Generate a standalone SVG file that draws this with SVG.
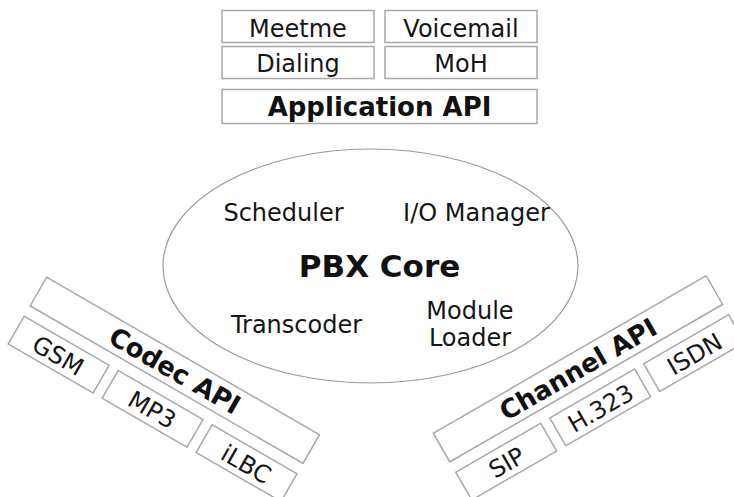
<svg xmlns="http://www.w3.org/2000/svg" width="734" height="497" viewBox="0 0 734 497">
<style>
.box{fill:#fff;stroke:#a8a8a8;stroke-width:1.5}
.core{fill:#fff;stroke:#9a9a9a;stroke-width:1.2}
.t{font-family:"DejaVu Sans","Liberation Sans",sans-serif;font-size:24px;fill:#151515;text-anchor:middle}
.b{font-family:"DejaVu Sans","Liberation Sans",sans-serif;font-size:26px;font-weight:bold;fill:#111;text-anchor:middle}
.pbx{font-family:"DejaVu Sans","Liberation Sans",sans-serif;font-size:31px;font-weight:bold;fill:#111;text-anchor:middle}
</style>
<rect width="734" height="497" fill="#fff"/>
<g id="application">
  <g id="meetme"><rect class="box" x="222" y="10.5" width="152" height="32"/><text class="t" x="298" y="36.5">Meetme</text></g>
  <g id="voicemail"><rect class="box" x="385" y="10.5" width="152" height="32"/><text class="t" x="461" y="36.5">Voicemail</text></g>
  <g id="dialing"><rect class="box" x="222" y="46.5" width="152" height="32"/><text class="t" x="298" y="72">Dialing</text></g>
  <g id="moh"><rect class="box" x="385" y="46.5" width="152" height="32"/><text class="t" x="461" y="72">MoH</text></g>
  <g id="application-api"><rect class="box" x="222" y="89.5" width="315" height="34"/><text class="b" x="379.5" y="116">Application API</text></g>
</g>
<g id="pbx-core">
  <ellipse class="core" cx="370.5" cy="266" rx="207.5" ry="117"/>
  <text class="t" x="283.5" y="220.5">Scheduler</text>
  <text class="t" x="476.5" y="220.5">I/O Manager</text>
  <text class="pbx" x="379.5" y="277">PBX Core</text>
  <text class="t" x="296.5" y="332.5">Transcoder</text>
  <text class="t" x="470" y="318.5">Module</text>
  <text class="t" x="470" y="346">Loader</text>
</g>
<g id="codec" transform="translate(46.7,277.3) rotate(30)">
  <g id="codec-api"><rect class="box" x="0" y="0" width="315" height="33"/><text class="b" x="157.5" y="26">Codec API</text></g>
  <g id="gsm"><rect class="box" x="0" y="45" width="98" height="32"/><text class="t" x="49" y="70.5">GSM</text></g>
  <g id="mp3"><rect class="box" x="108.5" y="45" width="98" height="32"/><text class="t" x="157.5" y="70.5">MP3</text></g>
  <g id="ilbc"><rect class="box" x="217" y="45" width="98" height="32"/><text class="t" x="266" y="70.5">iLBC</text></g>
</g>
<g id="channel" transform="translate(433.3,433.3) rotate(-30)">
  <g id="channel-api"><rect class="box" x="0" y="0" width="315" height="33"/><text class="b" x="157.5" y="26">Channel API</text></g>
  <g id="sip"><rect class="box" x="0" y="45" width="98" height="32"/><text class="t" x="49" y="70.5">SIP</text></g>
  <g id="h323"><rect class="box" x="108.5" y="45" width="98" height="32"/><text class="t" x="157.5" y="70.5">H.323</text></g>
  <g id="isdn"><rect class="box" x="217" y="45" width="98" height="32"/><text class="t" x="266" y="70.5">ISDN</text></g>
</g>
</svg>
